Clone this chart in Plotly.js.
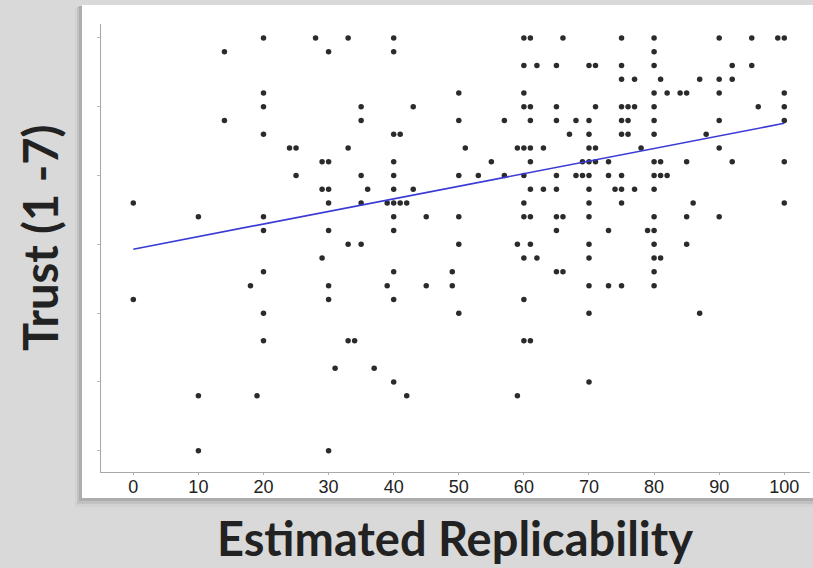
<!DOCTYPE html>
<html>
<head>
<meta charset="utf-8">
<script src="https://cdn.plot.ly/plotly-3.0.1.min.js"></script>
<style>
  html, body { margin: 0; padding: 0; background: #d9d9d9; }
  #chart { width: 813px; height: 568px; }
</style>
</head>
<body>
<div id="chart"></div>
<script>
// ---- Data ----
// Trust scores (1-7, steps of 0.2) and the estimated replicability values at each level
const trustLevels = [7.0, 6.8, 6.6, 6.4, 6.2, 6.0, 5.8, 5.6, 5.4, 5.2, 5.0, 4.8, 4.6, 4.4, 4.2, 4.0, 3.8, 3.6, 3.4, 3.2, 3.0, 2.6, 2.2, 2.0, 1.8, 1.0];
const replicabilityByLevel = [
  [20, 28, 33, 40, 60, 61, 66, 75, 80, 90, 95, 99, 100],
  [14, 30, 40, 80],
  [60, 62, 65, 70, 71, 75, 80, 92, 95],
  [75, 77, 81, 87, 90, 92],
  [20, 50, 60, 80, 82, 84, 85, 90, 100],
  [20, 35, 43, 60, 61, 65, 71, 75, 76, 77, 80, 96, 100],
  [14, 35, 50, 57, 61, 65, 68, 70, 75, 76, 80, 90, 100],
  [20, 40, 41, 67, 70, 75, 76, 80, 88],
  [24, 25, 33, 51, 59, 60, 61, 63, 70, 71, 78, 90],
  [29, 30, 40, 55, 61, 69, 70, 71, 73, 80, 81, 85, 92, 100],
  [25, 35, 40, 50, 53, 57, 60, 65, 68, 69, 70, 73, 75, 80, 81, 82],
  [29, 30, 36, 40, 43, 61, 63, 65, 70, 74, 75, 77, 80],
  [0, 30, 35, 39, 40, 41, 42, 60, 70, 75, 86, 100],
  [10, 20, 40, 45, 50, 60, 61, 65, 66, 70, 80, 85, 90],
  [20, 30, 40, 65, 73, 79, 80],
  [33, 35, 50, 59, 61, 70, 80, 85],
  [29, 60, 62, 70, 80, 81],
  [20, 40, 49, 65, 66, 80],
  [18, 30, 39, 45, 49, 70, 73, 75, 80],
  [0, 30, 40, 60],
  [20, 50, 70, 87],
  [20, 33, 34, 60, 61],
  [31, 37],
  [40, 70],
  [10, 19, 42, 59],
  [10, 30]
];
// Fitted trend line (end points)
const fitX = [0, 100];
const fitY = [3.93, 5.76];
// Axis ticks
const xTickValues = [0, 10, 20, 30, 40, 50, 60, 70, 80, 90, 100];
const xTickLabels = ["0", "10", "20", "30", "40", "50", "60", "70", "80", "90", "100"];
const yTickValues = [1, 2, 3, 4, 5, 6, 7];
// Text
const xTitle = "Estimated Replicability";
const yTitle = "Trust (1 -7)";

// ---- Build the traces ----
const pointsX = [];
const pointsY = [];
trustLevels.forEach(function (lvl, i) {
  replicabilityByLevel[i].forEach(function (v) {
    pointsX.push(v);
    pointsY.push(lvl);
  });
});

const scatter = {
  type: 'scatter',
  mode: 'markers',
  x: pointsX,
  y: pointsY,
  marker: { color: '#2b2b2b', size: 5.5, line: { width: 0 } },
  hoverinfo: 'x+y',
  showlegend: false
};

const fit = {
  type: 'scatter',
  mode: 'lines',
  x: fitX,
  y: fitY,
  line: { color: '#3a3ad6', width: 1.6 },
  hoverinfo: 'skip',
  showlegend: false
};

// pixel helpers for decorative panel shapes (paper coordinates)
const ML = 101, MR = 3, MT = 24, MB = 96, W = 813, H = 568;
const PW = W - ML - MR, PH = H - MT - MB;
function px(x) { return (x - ML) / PW; }
function py(y) { return (H - MB - y) / PH; }

function rect(x0, y0, x1, y1, color) {
  return {
    type: 'rect', xref: 'paper', yref: 'paper', layer: 'below',
    x0: px(x0), x1: px(x1), y0: py(y1), y1: py(y0),
    fillcolor: color, line: { width: 0 }
  };
}

const layout = {
  width: W,
  height: H,
  margin: { l: ML, r: MR, t: MT, b: MB, pad: 0 },
  paper_bgcolor: '#d9d9d9',
  plot_bgcolor: '#ffffff',
  font: { family: 'Liberation Sans, Arial, sans-serif', color: '#222222' },
  xaxis: {
    range: [-4.96, 103.95],
    tickvals: xTickValues,
    ticktext: xTickLabels,
    tickfont: { size: 18, color: '#222222', family: 'Liberation Sans, Arial, sans-serif' },
    ticks: 'outside',
    ticklen: 2,
    tickcolor: '#b0b0b0',
    ticklabelstandoff: -4,
    showgrid: false,
    zeroline: false,
    showline: true,
    linecolor: '#a8a8a8',
    linewidth: 1,
    fixedrange: true
  },
  yaxis: {
    range: [0.691, 7.203],
    tickvals: yTickValues,
    showticklabels: false,
    ticks: 'outside',
    ticklen: 3,
    tickcolor: '#b8b8b8',
    showgrid: false,
    zeroline: false,
    showline: true,
    linecolor: '#a8a8a8',
    linewidth: 1,
    fixedrange: true
  },
  shapes: [
    rect(75, 8, 830, 507, '#d2d2d2'),
    rect(77, 7, 830, 504, '#c2c2c2'),
    rect(79, 6, 830, 501, '#adadad'),
    rect(82, 5, 830, 498, '#ffffff')
  ],
  annotations: [
    {
      xref: 'paper', yref: 'paper',
      x: px(455), y: py(538),
      xanchor: 'center', yanchor: 'middle',
      text: '<b>' + xTitle + '</b>',
      showarrow: false,
      font: { family: 'Lato, "Open Sans", sans-serif', size: 47, color: '#222222' }
    },
    {
      xref: 'paper', yref: 'paper',
      x: px(40), y: py(238),
      xanchor: 'center', yanchor: 'middle',
      textangle: -90,
      text: '<b>' + yTitle + '</b>',
      showarrow: false,
      font: { family: 'Lato, "Open Sans", sans-serif', size: 47, color: '#222222' }
    }
  ]
};

Plotly.newPlot('chart', [scatter, fit], layout, { displayModeBar: false, staticPlot: true });
</script>
</body>
</html>
